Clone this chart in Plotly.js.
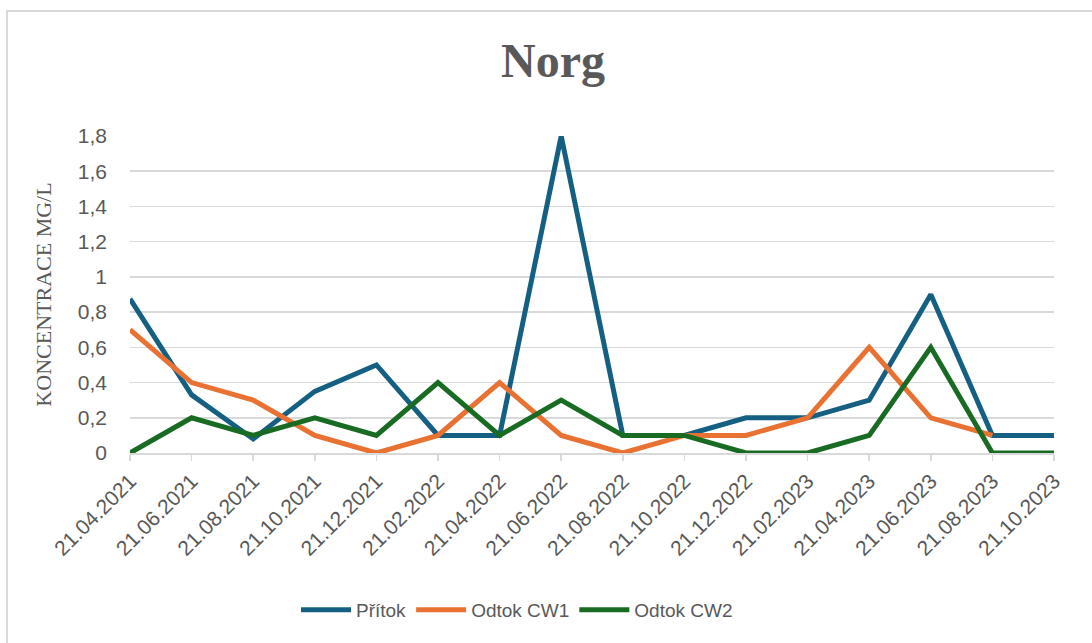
<!DOCTYPE html>
<html>
<head>
<meta charset="utf-8">
<script src="https://cdn.plot.ly/plotly-3.0.1.min.js"></script>
<style>
  html, body { margin: 0; padding: 0; overflow: hidden; background: #fff; }
  #chart { width: 1092px; height: 643px; position: absolute; left: 0; top: 0; }
  #frame { position: absolute; left: 6px; top: 10px; width: 1200px; height: 800px;
           border: 2px solid #d9d9d9; pointer-events: none; }
</style>
</head>
<body>
<div id="chart"></div>
<div id="frame"></div>
<script>
const dates = ["21.04.2021","21.06.2021","21.08.2021","21.10.2021","21.12.2021","21.02.2022",
  "21.04.2022","21.06.2022","21.08.2022","21.10.2022","21.12.2022","21.02.2023",
  "21.04.2023","21.06.2023","21.08.2023","21.10.2023"];
const pritok = [0.875, 0.33, 0.08, 0.35, 0.5, 0.1, 0.1, 1.8, 0.1, 0.1, 0.2, 0.2, 0.3, 0.9, 0.1, 0.1];
const odtokCW1 = [0.7, 0.4, 0.3, 0.1, 0, 0.1, 0.4, 0.1, 0, 0.1, 0.1, 0.2, 0.6, 0.2, 0.1, null];
const odtokCW2 = [0, 0.2, 0.1, 0.2, 0.1, 0.4, 0.1, 0.3, 0.1, 0.1, 0, 0, 0.1, 0.6, 0, 0];
const yTicks = [0, 0.2, 0.4, 0.6, 0.8, 1, 1.2, 1.4, 1.6, 1.8];

const sans = "Liberation Sans, Arial, sans-serif";
const serif = "Liberation Serif, Times New Roman, serif";
const grey = "#595959";

function tr(name, y, color) {
  return { type: "scatter", mode: "lines", name: name, x: dates, y: y,
    line: { color: color, width: 5 }, connectgaps: false };
}
const data = [
  tr("Přítok", pritok, "#156082"),
  tr("Odtok CW1", odtokCW1, "#E97132"),
  tr("Odtok CW2", odtokCW2, "#196B24")
];
const layout = {
  width: 1092, height: 643,
  margin: { l: 130, r: 38, t: 136, b: 190 },
  paper_bgcolor: "#fff", plot_bgcolor: "#fff",
  separators: ",.",
  title: { text: "<b>Norg</b>", font: { family: serif, size: 48, color: grey },
           x: 553 / 1092, xref: "container", xanchor: "center",
           y: 1 - 60 / 643, yref: "container", yanchor: "middle" },
  xaxis: {
    type: "category", range: [0, dates.length - 1],
    tickangle: -45, tickfont: { family: sans, size: 21, color: grey },
    ticks: "outside", ticklen: 6, tickcolor: "#d9d9d9", tickwidth: 1.5,
    showline: true, linecolor: "#d9d9d9", linewidth: 1.5,
    showgrid: false, zeroline: false, fixedrange: true
  },
  yaxis: {
    range: [0, 1.8], tickvals: yTicks,
    tickfont: { family: sans, size: 21, color: grey },
    gridcolor: "#d9d9d9", gridwidth: 1.5, zeroline: false, showline: false,
    ticks: "", ticklabelstandoff: 22,
    title: { text: "KONCENTRACE MG/L", font: { family: serif, size: 22, color: grey }, standoff: 20 },
    fixedrange: true
  },
  showlegend: true,
  legend: { orientation: "h", x: (296 - 130) / 924, xanchor: "left", y: -0.495, yanchor: "middle",
            font: { family: sans, size: 19, color: grey }, itemwidth: 50, tracegroupgap: 0 }
};
Plotly.newPlot("chart", data, layout, { displayModeBar: false, staticPlot: true });
</script>
</body>
</html>
